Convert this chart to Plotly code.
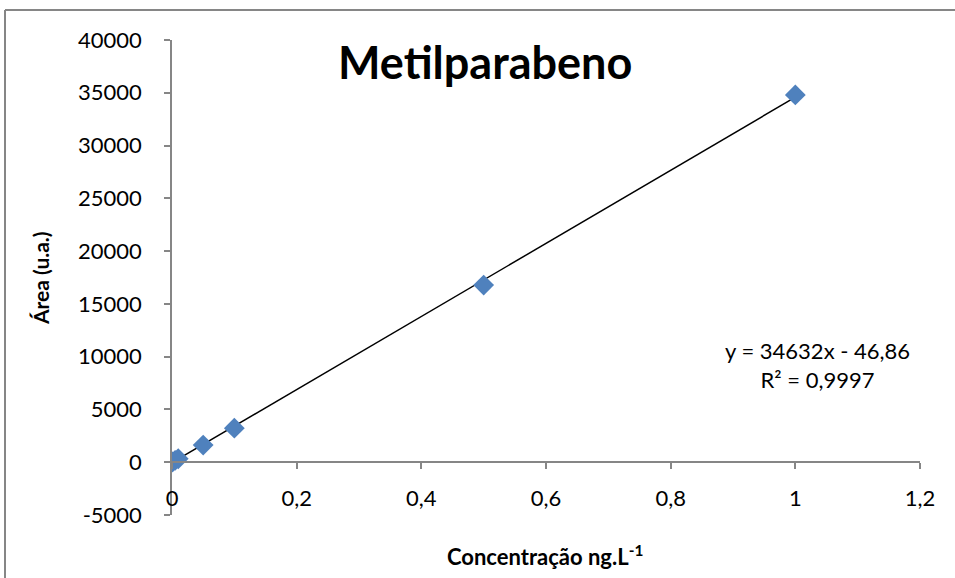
import plotly.graph_objects as go

# Data
conc = [0, 0.001, 0.005, 0.01, 0.05, 0.1, 0.5, 1.0]
area = [0, 40, 180, 330, 1620, 3230, 16780, 34800]
slope = 34632
intercept = -46.86
eq_text = "y = 34632x - 46,86<br>R² = 0,9997"

x_ticks = [0, 0.2, 0.4, 0.6, 0.8, 1.0, 1.2]
x_tick_labels = ["0", "0,2", "0,4", "0,6", "0,8", "1", "1,2"]
y_ticks = list(range(-5000, 40001, 5000))
y_tick_labels = [str(v) for v in y_ticks]

W, H = 955, 578
L, R, T, B = 172, 35, 40, 63
pw, ph = W - L - R, H - T - B
ymin, ymax = -5000, 40000
zero_frac = (0 - ymin) / (ymax - ymin)

font = "Lato, 'Open Sans', sans-serif"

x_fit = [min(conc), max(conc)]
y_fit = [slope * v + intercept for v in x_fit]

fig = go.Figure()
fig.add_trace(go.Scatter(x=x_fit, y=y_fit, mode="lines",
                         line=dict(color="black", width=1.5), hoverinfo="skip"))
fig.add_trace(go.Scatter(x=conc, y=area, mode="markers",
                         marker=dict(symbol="diamond", size=16, color="#4F81BD",
                                     line=dict(width=0))))

def px_x(p):
    return (p - L) / pw

def px_y(p):
    return 1 - (p - T) / ph

border = dict(color="#868686", width=2)

fig.update_layout(
    width=W, height=H,
    margin=dict(l=L, r=R, t=T, b=B),
    paper_bgcolor="white", plot_bgcolor="white",
    showlegend=False,
    font=dict(family=font, size=22, color="black"),
    xaxis=dict(range=[0, 1.2], tickvals=x_ticks, ticktext=x_tick_labels,
               showgrid=False, zeroline=False, showline=True,
               linecolor="#868686", linewidth=1.5,
               ticks="outside", ticklen=6, tickcolor="#868686", tickwidth=1.5,
               anchor="free", position=zero_frac, ticklabelstandoff=11,
               tickfont=dict(size=22)),
    yaxis=dict(range=[ymin, ymax], tickvals=y_ticks, ticktext=y_tick_labels,
               showgrid=False, zeroline=False, showline=True,
               linecolor="#868686", linewidth=1.5,
               ticks="outside", ticklen=6, tickcolor="#868686", tickwidth=1.5,
               ticklabelstandoff=18,
               tickfont=dict(size=22)),
    shapes=[
        dict(type="line", xref="paper", yref="paper", layer="above",
             x0=px_x(5), x1=px_x(955), y0=px_y(10), y1=px_y(10), line=border),
        dict(type="line", xref="paper", yref="paper", layer="above",
             x0=px_x(5), x1=px_x(5), y0=px_y(10), y1=px_y(578), line=border),
    ],
    annotations=[
        dict(text="<b>Metilparabeno</b>", xref="paper", yref="paper",
             x=px_x(485), y=px_y(62), showarrow=False,
             xanchor="center", yanchor="middle",
             font=dict(size=45, family=font, color="black")),
        dict(text="<b>Área (u.a.)</b>", xref="paper", yref="paper",
             x=px_x(40), y=px_y(278), showarrow=False, textangle=-90,
             xanchor="center", yanchor="middle",
             font=dict(size=21, family=font, color="black")),
        dict(text="<b>Concentração ng.L<sup>-1</sup></b>", xref="paper", yref="paper",
             x=px_x(545), y=px_y(555), showarrow=False,
             xanchor="center", yanchor="middle",
             font=dict(size=22, family=font, color="black")),
        dict(text=eq_text, xref="paper", yref="paper",
             x=px_x(817), y=px_y(365), showarrow=False, align="center",
             xanchor="center", yanchor="middle",
             font=dict(size=22, family=font, color="black")),
    ],
)

fig.write_html("out.html", config={"displayModeBar": False},
               post_script="document.body.style.margin='0';document.body.style.overflow='hidden';")
